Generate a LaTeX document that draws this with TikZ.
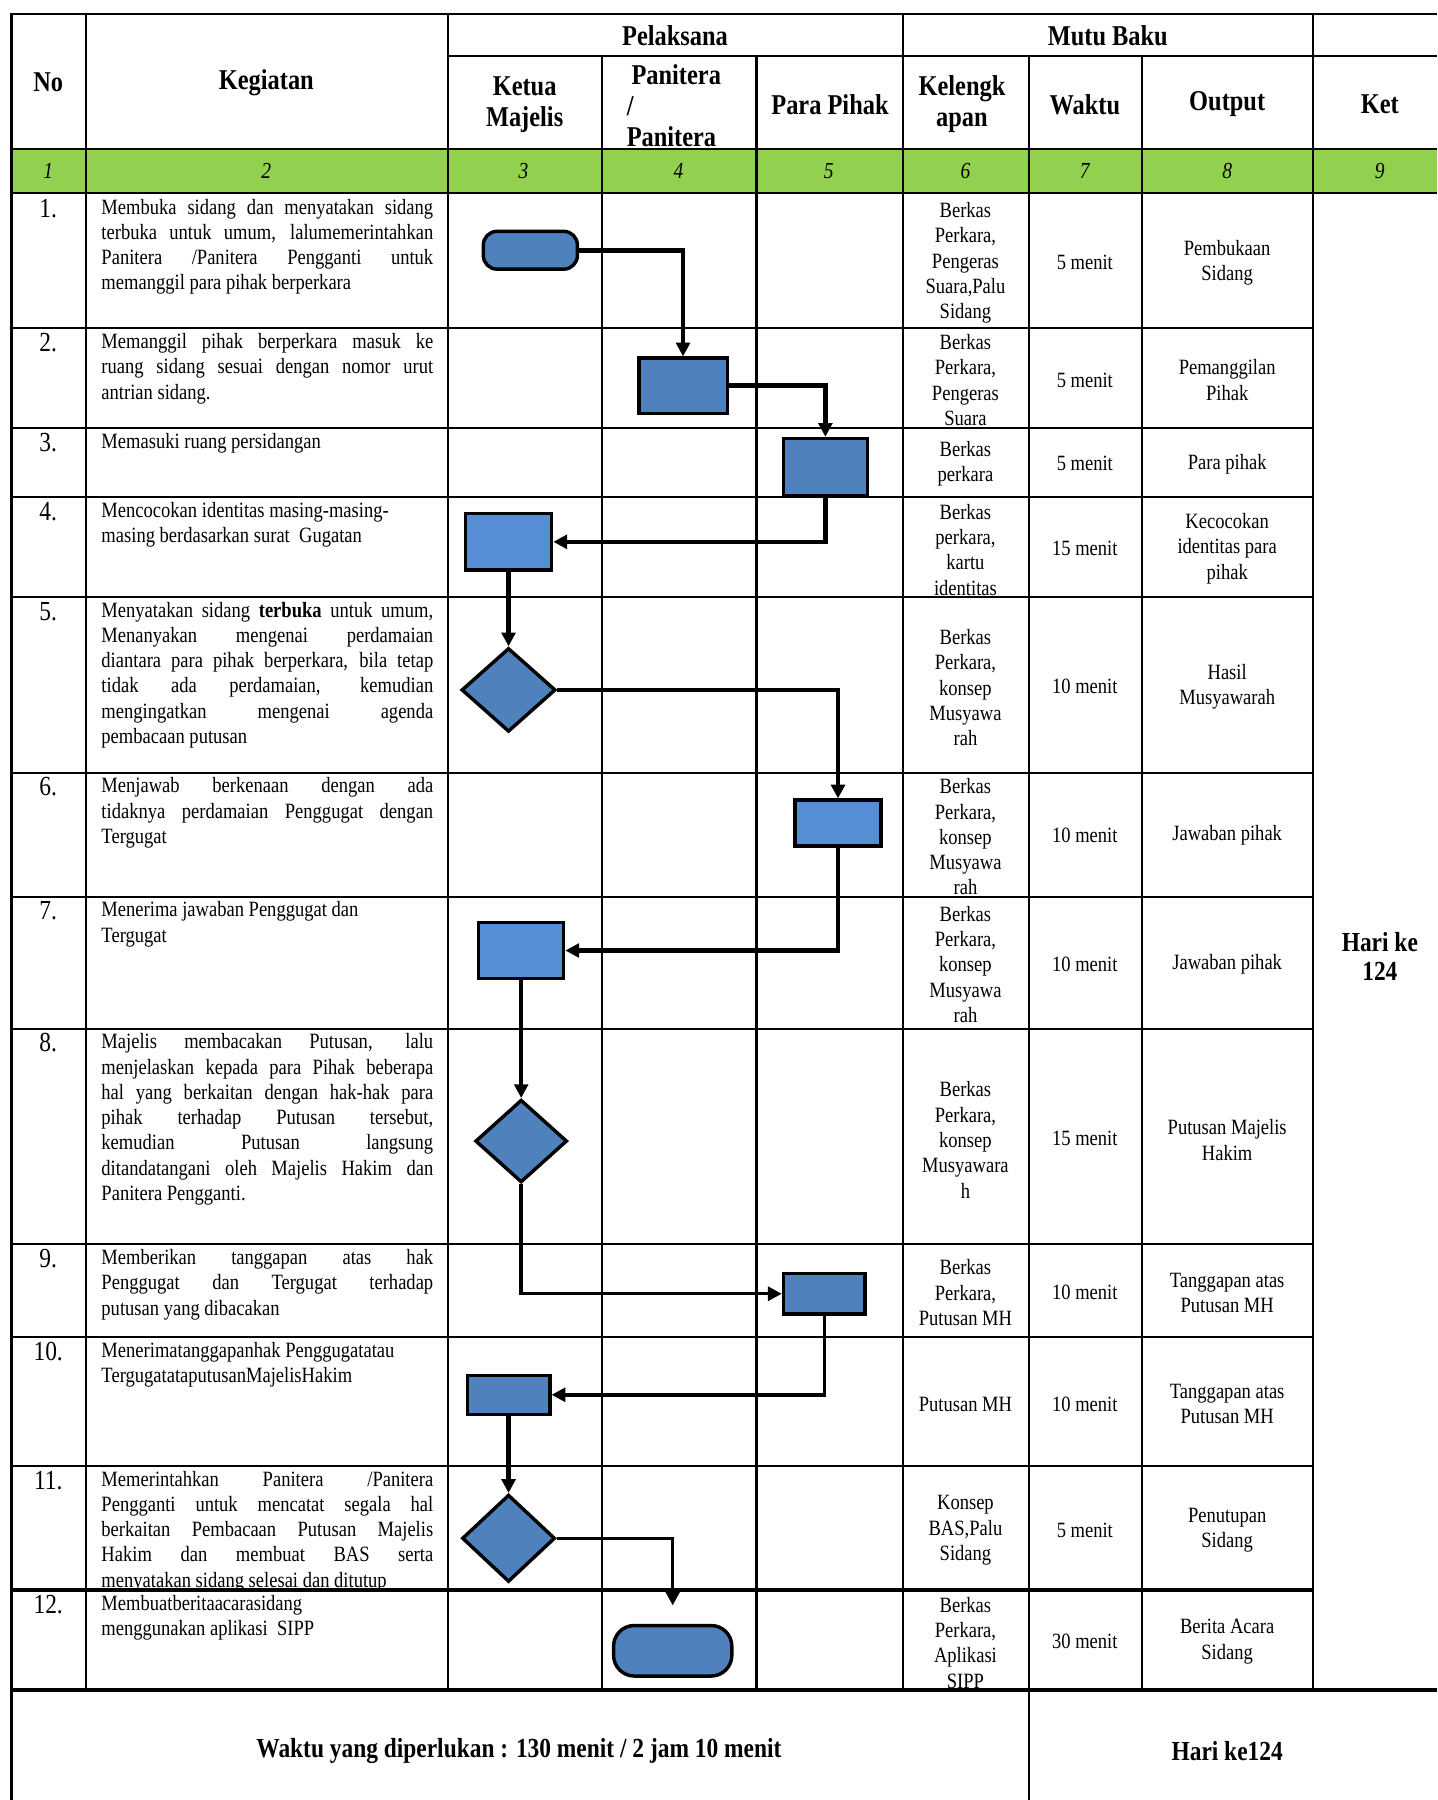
\documentclass[tikz,border=0pt]{standalone}
\usepackage{fontspec}
\setmainfont[FakeStretch=0.85]{Liberation Serif}
\usepackage{tikz}
\usetikzlibrary{arrows.meta, positioning, shapes.geometric}
\definecolor{KolomHijau}{HTML}{92D050}
\definecolor{BiruProses}{HTML}{4F81BD}
\definecolor{BiruMuda}{HTML}{558ED5}
\tolerance=10000
\hbadness=10000

\begin{document}
\begin{tikzpicture}[
    x=0.5pt, y=-0.5pt, >={Triangle[length=6pt,width=6pt]},
    garis/.style={line width=0.9pt},
    garisT/.style={line width=1.6pt},
    hdr/.style={align=center, inner sep=0pt, font=\fontsize{12.5}{13.5}\selectfont\bfseries},
    kolnum/.style={inner sep=0pt, font=\fontsize{10}{12}\selectfont\itshape},
    nobaris/.style={anchor=north, inner sep=0pt, font=\fontsize{12}{13}\selectfont},
    keg/.style={anchor=north west, inner sep=0pt, text width=144.5pt, align=justify, font=\fontsize{9.5}{11}\selectfont},
    isi/.style={align=center, inner sep=0pt, font=\fontsize{9.5}{11}\selectfont},
    tebal/.style={align=center, inner sep=0pt, font=\fontsize{12}{12.5}\selectfont\bfseries},
    proses/.style={draw, line width=1.5pt, fill=BiruProses, inner sep=0pt},
    prosesM/.style={proses, fill=BiruMuda},
    keputusan/.style={diamond, draw, line width=1.5pt, fill=BiruProses, inner sep=0pt, minimum width=41pt, minimum height=36.5pt},
    terminal/.style={draw, line width=1.5pt, fill=BiruProses, inner sep=0pt},
    alur/.style={->, line width=2pt},
    alurT/.style={->, line width=1.5pt},
  ]
  \useasboundingbox (0,0) rectangle (1252,1568);
  % baris nomor kolom (hijau)
  \fill[KolomHijau] (10,130) rectangle (1252,168);
  % garis tabel
  \draw[garis] (10,1568) -- (10,12) -- (1252,12);
  \draw[garis] (390,49) -- (1252,49);
  \draw[garis] (10,130) -- (1252,130) (10,168) -- (1252,168);
  \draw[garis] (75,12) -- (75,1472) (390,12) -- (390,1472) (524,49) -- (524,1472)
    (659,49) -- (659,1472) (787,12) -- (787,1472) (896,49) -- (896,1568)
    (995,49) -- (995,1472) (1144,12) -- (1144,1472);
  \draw[garis] (10,286) -- (1144,286) (10,373) -- (1144,373) (10,433) -- (1144,433)
    (10,520) -- (1144,520) (10,673) -- (1144,673) (10,781) -- (1144,781)
    (10,896) -- (1144,896) (10,1084) -- (1144,1084) (10,1165) -- (1144,1165)
    (10,1277) -- (1144,1277);
  \draw[garisT] (10,1385) -- (1144,1385);
  \draw[garisT] (10,1472) -- (1252,1472);

  % kepala tabel
  \node[hdr] (hNo) at (42,72) {No};
  \node[hdr] (hKeg) at (232,72) {Kegiatan};
  \node[hdr] (hPel) at (588,31) {Pelaksana};
  \node[hdr] (hMutu) at (965,31) {Mutu Baku};
  \node[hdr] (hKetua) at (457,91) {Ketua\\Majelis};
  \node[hdr, align=left] (hPan) at (587,92) {\,Panitera\\/\\Panitera};
  \node[hdr] (hPihak) at (723,91) {Para Pihak};
  \node[hdr] (hKel) at (838,91) {Kelengk\\apan};
  \node[hdr] (hWaktu) at (945,91) {Waktu};
  \node[hdr] (hOut) at (1069,91) {Output};
  \node[hdr] (hKet) at (1202,91) {Ket};
  \node[kolnum] (n1) at (42,149) {1};
  \node[kolnum] (n2) at (232,149) {2};
  \node[kolnum] (n3) at (456,149) {3};
  \node[kolnum] (n4) at (591,149) {4};
  \node[kolnum] (n5) at (722,149) {5};
  \node[kolnum] (n6) at (841,149) {6};
  \node[kolnum] (n7) at (945,149) {7};
  \node[kolnum] (n8) at (1069,149) {8};
  \node[kolnum] (n9) at (1202,149) {9};

  % nomor baris
  \node[nobaris] (b1) at (42,173) {1.};
  \node[nobaris] (b2) at (42,290) {2.};
  \node[nobaris] (b3) at (42,377) {3.};
  \node[nobaris] (b4) at (42,437) {4.};
  \node[nobaris] (b5) at (42,524) {5.};
  \node[nobaris] (b6) at (42,677) {6.};
  \node[nobaris] (b7) at (42,785) {7.};
  \node[nobaris] (b8) at (42,900) {8.};
  \node[nobaris] (b9) at (42,1088) {9.};
  \node[nobaris] (b10) at (42,1169) {10.};
  \node[nobaris] (b11) at (42,1281) {11.};
  \node[nobaris] (b12) at (42,1389) {12.};

  % kegiatan
  \node[keg] (k1) at (88,173) {Membuka sidang dan menyatakan sidang\linebreak terbuka untuk umum, lalumemerintahkan\linebreak Panitera /Panitera Pengganti untuk\linebreak memanggil para pihak berperkara};
  \node[keg] (k2) at (88,290) {Memanggil pihak berperkara masuk ke\linebreak ruang sidang sesuai dengan nomor urut\linebreak antrian sidang.};
  \node[keg] (k3) at (88,377) {Memasuki ruang persidangan};
  \node[keg] (k4) at (88,437) {Mencocokan identitas masing-masing-\newline masing berdasarkan surat\ \ Gugatan};
  \node[keg] (k5) at (88,524) {Menyatakan sidang \textbf{terbuka} untuk umum,\linebreak Menanyakan mengenai perdamaian\linebreak diantara para pihak berperkara, bila tetap\linebreak tidak ada perdamaian, kemudian\linebreak mengingatkan mengenai agenda\linebreak pembacaan putusan};
  \node[keg] (k6) at (88,677) {Menjawab berkenaan dengan ada\linebreak tidaknya perdamaian Penggugat dengan\linebreak Tergugat};
  \node[keg] (k7) at (88,785) {Menerima jawaban Penggugat dan\newline Tergugat};
  \node[keg] (k8) at (88,900) {Majelis membacakan Putusan, lalu\linebreak menjelaskan kepada para Pihak beberapa\linebreak hal yang berkaitan dengan hak-hak para\linebreak pihak terhadap Putusan tersebut,\linebreak kemudian Putusan langsung\linebreak ditandatangani oleh Majelis Hakim dan\linebreak Panitera Pengganti.};
  \node[keg] (k9) at (88,1088) {Memberikan tanggapan atas hak\linebreak Penggugat dan Tergugat terhadap\linebreak putusan yang dibacakan};
  \node[keg] (k10) at (88,1169) {Menerimatanggapanhak Penggugatatau\newline TergugatataputusanMajelisHakim};
  \node[keg] (k11) at (88,1281) {Memerintahkan Panitera /Panitera\linebreak Pengganti untuk mencatat segala hal\linebreak berkaitan Pembacaan Putusan Majelis\linebreak Hakim dan membuat BAS serta\linebreak menyatakan sidang selesai dan ditutup};
  \node[keg] (k12) at (88,1389) {Membuatberitaacarasidang\newline menggunakan aplikasi\ \ SIPP};

  % kelengkapan
  \node[isi] (l1) at (841,229) {Berkas\\Perkara,\\Pengeras\\Suara,Palu\\Sidang};
  \node[isi] (l2) at (841,331) {Berkas\\Perkara,\\Pengeras\\Suara};
  \node[isi] (l3) at (841,404) {Berkas\\perkara};
  \node[isi] (l4) at (841,479) {Berkas\\perkara,\\kartu\\identitas};
  \node[isi] (l5) at (841,599) {Berkas\\Perkara,\\konsep\\Musyawa\\rah};
  \node[isi] (l6) at (841,729) {Berkas\\Perkara,\\konsep\\Musyawa\\rah};
  \node[isi] (l7) at (841,840) {Berkas\\Perkara,\\konsep\\Musyawa\\rah};
  \node[isi] (l8) at (841,993) {Berkas\\Perkara,\\konsep\\Musyawara\\h};
  \node[isi] (l9) at (841,1126) {Berkas\\Perkara,\\Putusan MH};
  \node[isi] (l10) at (841,1223) {Putusan MH};
  \node[isi] (l11) at (841,1333) {Konsep\\BAS,Palu\\Sidang};
  \node[isi] (l12) at (841,1431) {Berkas\\Perkara,\\Aplikasi\\SIPP};

  % waktu
  \node[isi] (w1) at (945,229) {5 menit};
  \node[isi] (w2) at (945,331) {5 menit};
  \node[isi] (w3) at (945,404) {5 menit};
  \node[isi] (w4) at (945,478) {15 menit};
  \node[isi] (w5) at (945,598) {10 menit};
  \node[isi] (w6) at (945,728) {10 menit};
  \node[isi] (w7) at (945,840) {10 menit};
  \node[isi] (w8) at (945,992) {15 menit};
  \node[isi] (w9) at (945,1126) {10 menit};
  \node[isi] (w10) at (945,1223) {10 menit};
  \node[isi] (w11) at (945,1333) {5 menit};
  \node[isi] (w12) at (945,1430) {30 menit};

  % output
  \node[isi] (o1) at (1069,229) {Pembukaan\\Sidang};
  \node[isi] (o2) at (1069,331) {Pemanggilan\\Pihak};
  \node[isi] (o3) at (1069,404) {Para pihak};
  \node[isi] (o4) at (1069,478) {Kecocokan\\identitas para\\pihak};
  \node[isi] (o5) at (1069,598) {Hasil\\Musyawarah};
  \node[isi] (o6) at (1069,728) {Jawaban pihak};
  \node[isi] (o7) at (1069,840) {Jawaban pihak};
  \node[isi] (o8) at (1069,993) {Putusan Majelis\\Hakim};
  \node[isi] (o9) at (1069,1126) {Tanggapan atas\\Putusan MH};
  \node[isi] (o10) at (1069,1223) {Tanggapan atas\\Putusan MH};
  \node[isi] (o11) at (1069,1333) {Penutupan\\Sidang};
  \node[isi] (o12) at (1069,1430) {Berita Acara\\Sidang};

  % keterangan + jumlah waktu
  \node[tebal] (ket) at (1202,833) {Hari ke\\124};
  \node[tebal] (total) at (452,1525) {Waktu yang diperlukan : 130 menit / 2 jam 10 menit};
  \node[tebal] (hari) at (1069,1525) {Hari ke124};

  % bagan alur
  \node[terminal, rounded corners=6pt, minimum width=41pt, minimum height=16.5pt] (t1) at (462,218) {};
  \node[proses, minimum width=38.5pt, minimum height=24pt] (p2) at (595,336) {};
  \node[proses, minimum width=36.5pt, minimum height=25pt] (p3) at (719,407) {};
  \node[prosesM, minimum width=37.5pt, minimum height=24.5pt] (p4) at (443,472) {};
  \node[keputusan] (d5) at (443,601) {};
  \node[prosesM, minimum width=37.5pt, minimum height=20pt] (p6) at (730,717) {};
  \node[prosesM, minimum width=37pt, minimum height=24.5pt] (p7) at (454,828) {};
  \node[keputusan, minimum width=40pt, minimum height=36pt] (d8) at (454,994) {};
  \node[proses, minimum width=35.5pt, minimum height=17.5pt] (p9) at (718,1127) {};
  \node[proses, minimum width=36pt, minimum height=17pt] (p10) at (443,1215) {};
  \node[keputusan, minimum width=40.5pt, minimum height=38pt] (d11) at (443,1340) {};
  \node[terminal, rounded corners=9pt, minimum width=51.5pt, minimum height=22pt] (t12) at (586,1438) {};

  \draw[alur] (t1.east) -| (p2.north);
  \draw[alur] (p2.east) -| (p3.north);
  \draw[alur] (p3.south) |- (p4.east);
  \draw[alur] (p4.south) -- (d5.north);
  \draw[alurT] (d5.east) -| (p6.north);
  \draw[alur] (p6.south) |- (p7.east);
  \draw[alur] (p7.south) -- (d8.north);
  \draw[alurT] (d8.south) |- (p9.west);
  \draw[alurT] (p9.south) |- (p10.east);
  \draw[alur] (p10.south) -- (d11.north);
  \draw[alurT, shorten >=8pt] (d11.east) -| (t12.north);
\end{tikzpicture}
\end{document}
